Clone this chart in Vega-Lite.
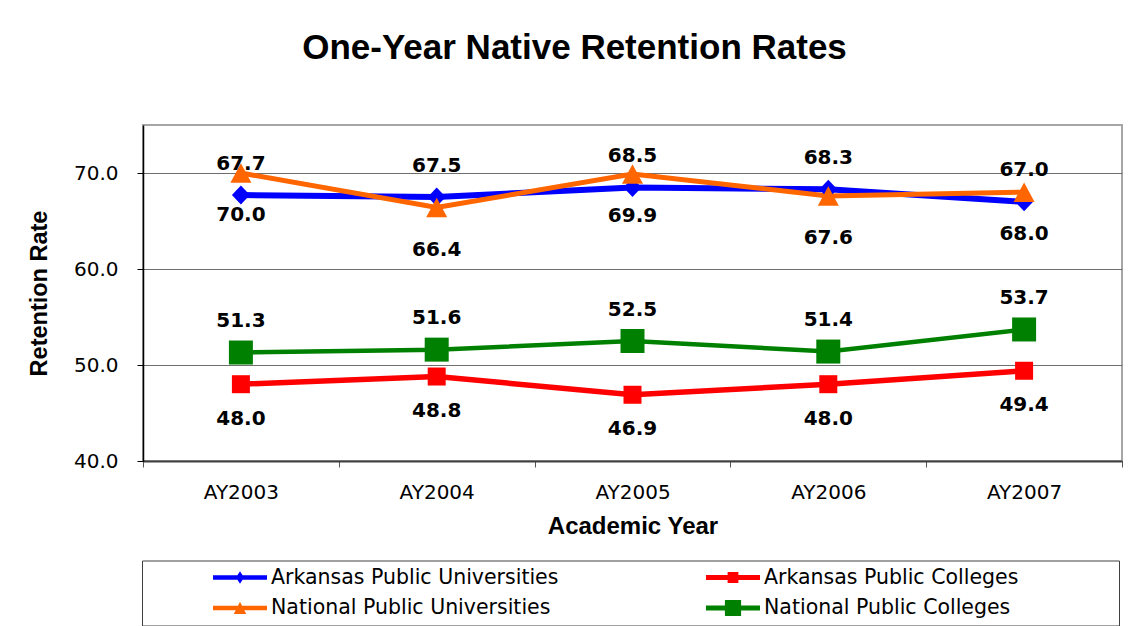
{
  "$schema": "https://vega.github.io/schema/vega-lite/v6.json",
  "width": 979,
  "height": 336,
  "autosize": {"type": "none"},
  "padding": {"left": 143, "top": 125, "right": 8, "bottom": 165},
  "background": "white",
  "title": {"text": "One-Year Native Retention Rates", "font": "Liberation Sans", "fontSize": 35, "fontWeight": "bold", "color": "#000000", "anchor": "middle", "baseline": "alphabetic", "offset": 31, "dx": -58},
  "data": {"values": [
    {"year": "AY2003", "series": "Arkansas Public Universities", "value": 67.7},
    {"year": "AY2004", "series": "Arkansas Public Universities", "value": 67.5},
    {"year": "AY2005", "series": "Arkansas Public Universities", "value": 68.5},
    {"year": "AY2006", "series": "Arkansas Public Universities", "value": 68.3},
    {"year": "AY2007", "series": "Arkansas Public Universities", "value": 67.0},
    {"year": "AY2003", "series": "Arkansas Public Colleges", "value": 48.0},
    {"year": "AY2004", "series": "Arkansas Public Colleges", "value": 48.8},
    {"year": "AY2005", "series": "Arkansas Public Colleges", "value": 46.9},
    {"year": "AY2006", "series": "Arkansas Public Colleges", "value": 48.0},
    {"year": "AY2007", "series": "Arkansas Public Colleges", "value": 49.4},
    {"year": "AY2003", "series": "National Public Universities", "value": 70.0},
    {"year": "AY2004", "series": "National Public Universities", "value": 66.4},
    {"year": "AY2005", "series": "National Public Universities", "value": 69.9},
    {"year": "AY2006", "series": "National Public Universities", "value": 67.6},
    {"year": "AY2007", "series": "National Public Universities", "value": 68.0},
    {"year": "AY2003", "series": "National Public Colleges", "value": 51.3},
    {"year": "AY2004", "series": "National Public Colleges", "value": 51.6},
    {"year": "AY2005", "series": "National Public Colleges", "value": 52.5},
    {"year": "AY2006", "series": "National Public Colleges", "value": 51.4},
    {"year": "AY2007", "series": "National Public Colleges", "value": 53.7}
  ]},
  "encoding": {
    "x": {
      "field": "year", "type": "nominal",
      "scale": {"type": "band", "domain": ["AY2003", "AY2004", "AY2005", "AY2006", "AY2007"], "paddingInner": 0, "paddingOuter": 0},
      "axis": {
        "title": "Academic Year", "tickBand": "extent", "labelAngle": 0,
        "labelFont": "DejaVu Sans", "labelFontSize": 20, "labelColor": "#000000", "labelPadding": 15,
        "tickSize": 6, "tickColor": "#555555", "domainColor": "#404040", "domainWidth": 2, "grid": false,
        "titleFont": "Liberation Sans", "titleFontSize": 24, "titleFontWeight": "bold", "titleColor": "#000000",
        "titleBaseline": "alphabetic", "titleX": 489.5, "titleY": 72, "titleAlign": "center"
      }
    },
    "y": {
      "field": "value", "type": "quantitative",
      "scale": {"domain": [40, 75], "nice": false, "zero": false},
      "axis": {
        "title": "Retention Rate", "values": [40, 50, 60, 70], "format": ".1f",
        "labelFont": "DejaVu Sans", "labelFontSize": 20, "labelColor": "#000000", "labelPadding": 19,
        "tickSize": 6, "tickColor": "#000000", "domainColor": "#000000", "domainWidth": 1.5,
        "grid": true, "gridColor": "#6e6e6e", "gridWidth": 1,
        "titleFont": "Liberation Sans", "titleFontSize": 23.5, "titleFontWeight": "bold", "titleColor": "#000000",
        "titleBaseline": "alphabetic", "titleX": -96.5, "titleY": 168, "titleAngle": -90, "titleAlign": "center"
      }
    }
  },
  "layer": [
    {
      "mark": {"type": "line"},
      "encoding": {
        "color": {"field": "series", "type": "nominal", "legend": null,
          "scale": {"domain": ["Arkansas Public Universities", "Arkansas Public Colleges", "National Public Universities", "National Public Colleges"], "range": ["#0000ff", "#ff0000", "#ff6600", "#008000"]}},
        "strokeWidth": {"field": "series", "type": "ordinal", "legend": null,
          "scale": {"domain": ["Arkansas Public Universities", "Arkansas Public Colleges", "National Public Universities", "National Public Colleges"], "range": [6, 4.5, 6, 4.5]}}
      }
    },
    {
      "mark": {"type": "point", "filled": true, "opacity": 1, "size": 100, "strokeWidth": 0},
      "encoding": {
        "color": {"field": "series", "type": "nominal", "legend": null,
          "scale": {"domain": ["Arkansas Public Universities", "Arkansas Public Colleges", "National Public Universities", "National Public Colleges"], "range": ["#0000ff", "#ff0000", "#ff6600", "#008000"]}},
        "shape": {"field": "series", "type": "nominal", "legend": null,
          "scale": {"domain": ["Arkansas Public Universities", "Arkansas Public Colleges", "National Public Universities", "National Public Colleges"],
            "range": ["M0,-1.9L1.8,0L0,1.9L-1.8,0Z", "M-1.8,-1.8H1.8V1.8H-1.8Z", "M0,-1.95L2.1,1.95H-2.1Z", "M-2.4,-2.4H2.4V2.4H-2.4Z"]}}
      }
    },
    {
      "transform": [{"filter": "datum.series == 'Arkansas Public Universities' || datum.series == 'National Public Colleges'"}],
      "mark": {"type": "text", "font": "DejaVu Sans", "fontSize": 20, "fontWeight": "bold", "color": "#000000", "dy": -31.5},
      "encoding": {"text": {"field": "value", "type": "quantitative", "format": ".1f"}}
    },
    {
      "transform": [{"filter": "datum.series == 'National Public Universities'"}],
      "mark": {"type": "text", "font": "DejaVu Sans", "fontSize": 20, "fontWeight": "bold", "color": "#000000", "dy": 42},
      "encoding": {"text": {"field": "value", "type": "quantitative", "format": ".1f"}}
    },
    {
      "transform": [{"filter": "datum.series == 'Arkansas Public Colleges'"}],
      "mark": {"type": "text", "font": "DejaVu Sans", "fontSize": 20, "fontWeight": "bold", "color": "#000000", "dy": 34.5},
      "encoding": {"text": {"field": "value", "type": "quantitative", "format": ".1f"}}
    },
    {
      "transform": [{"filter": "datum.value < 0"}],
      "mark": {"type": "point", "filled": true, "opacity": 1, "size": 2916, "strokeWidth": 0},
      "encoding": {
        "color": {"field": "series", "type": "nominal",
          "scale": {"domain": ["Arkansas Public Universities", "Arkansas Public Colleges", "National Public Universities", "National Public Colleges"], "range": ["#0000ff", "#ff0000", "#ff6600", "#008000"]},
          "legend": {"orient": "none", "legendX": -1, "legendY": 435.5, "direction": "horizontal", "columns": 2, "title": " ", "titleOrient": "right", "titleFontSize": 1, "titlePadding": 95,
            "padding": 6, "clipHeight": 22, "rowPadding": 8.5, "columnPadding": 82, "symbolOffset": 65, "labelOffset": 4, "symbolSize": 2916, "symbolStrokeWidth": 0,
            "labelFont": "DejaVu Sans", "labelFontSize": 20.5, "labelColor": "#000000", "labelLimit": 500, "strokeColor": "#404040", "fillColor": "white",
            "encode": {"legend": {"update": {"strokeWidth": {"value": 1.5}}}}}},
        "shape": {"field": "series", "type": "nominal",
          "scale": {"domain": ["Arkansas Public Universities", "Arkansas Public Colleges", "National Public Universities", "National Public Colleges"],
            "range": ["M-1,-0.083H1V0.083H-1Z M0,-0.235L0.15,0L0,0.235L-0.15,0Z", "M-1,-0.09H1V0.09H-1Z M-0.2,-0.2H0.2V0.2H-0.2Z", "M-1,-0.083H1V0.083H-1Z M0,-0.23L0.23,0.22H-0.23Z", "M-1,-0.09H1V0.09H-1Z M-0.3,-0.3H0.3V0.3H-0.3Z"]},
          "legend": {"orient": "none", "legendX": -1, "legendY": 435.5, "direction": "horizontal", "columns": 2, "title": " ", "titleOrient": "right", "titleFontSize": 1, "titlePadding": 95,
            "padding": 6, "clipHeight": 22, "rowPadding": 8.5, "columnPadding": 82, "symbolOffset": 65, "labelOffset": 4, "symbolSize": 2916, "symbolStrokeWidth": 0,
            "labelFont": "DejaVu Sans", "labelFontSize": 20.5, "labelColor": "#000000", "labelLimit": 500, "strokeColor": "#404040", "fillColor": "white",
            "encode": {"legend": {"update": {"strokeWidth": {"value": 1.5}}}}}}
      }
    }
  ],
  "resolve": {"scale": {"color": "independent", "shape": "independent"}},
  "config": {"view": {"stroke": "#a6a6a6", "strokeWidth": 2}}
}
